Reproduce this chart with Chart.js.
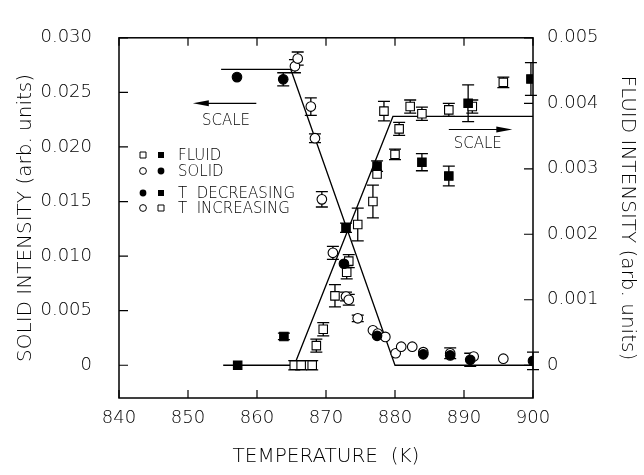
<!DOCTYPE html>
<html>
<head>
<meta charset="utf-8">
<script src="https://cdn.jsdelivr.net/npm/chart.js@4.4.1/dist/chart.umd.min.js"></script>
<style>
  html, body { margin: 0; padding: 0; background: #fff; }
  #wrap { width: 644px; height: 475px; }
</style>
</head>
<body>
<div id="wrap"><canvas id="chart-area" width="644" height="475"></canvas></div>
<script>
// temperature (K) and intensities
var solidDecT = [857.1, 863.8, 872.6, 877.4, 884.1, 888.0, 890.9, 900.0];
var solidDecV = [0.0264, 0.0262, 0.0093, 0.0027, 0.0010, 0.0009, 0.0005, 0.0004];
var solidDecE = [0, 0.0006, 0, 0, 0, 0, 0.0006, 0.0008];

var solidIncT = [865.5, 865.9, 867.8, 868.4, 869.4, 871.0, 872.9, 873.3, 874.6, 876.8, 877.5, 878.6, 880.1, 880.9, 882.5, 884.1, 888.0, 891.4, 895.7];
var solidIncV = [0.0274, 0.0281, 0.0237, 0.0208, 0.0152, 0.0103, 0.0063, 0.0060, 0.0043, 0.0032, 0.0029, 0.0026, 0.0011, 0.0017, 0.0017, 0.0012, 0.0011, 0.0008, 0.0006];
var solidIncE = [0.0006, 0.0006, 0.0008, 0.0004, 0.0007, 0.0006, 0.0004, 0.0005, 0.0003, 0, 0, 0, 0, 0, 0, 0, 0.0005, 0, 0];

var fluidDecT = [857.2, 863.9, 872.9, 877.4, 883.9, 887.8, 890.6, 899.7];
var fluidDecV = [0, 0.00044, 0.0021, 0.00304, 0.0031, 0.00289, 0.0040, 0.00437];
var fluidDecE = [0, 0.00005, 0.00007, 0.00008, 0.00013, 0.00015, 0.00028, 0.00025];

var fluidIncT = [865.4, 866.4, 868.0, 868.6, 869.6, 871.3, 873.0, 873.3, 874.6, 876.8, 877.4, 878.4, 880.0, 880.6, 882.2, 883.9, 887.8, 891.2, 895.7];
var fluidIncV = [0, 0, 0, 0.0003, 0.00055, 0.00106, 0.00142, 0.00159, 0.00215, 0.0025, 0.00292, 0.00388, 0.00322, 0.00361, 0.00395, 0.00384, 0.0039, 0.00395, 0.00432];
var fluidIncE = [0.00007, 0.00007, 0.00007, 0.0001, 0.0001, 0.00017, 0.0001, 0.0001, 0.00025, 0.00025, 0, 0.00015, 0.00008, 0.0001, 0.0001, 0.0001, 0.0001, 0.0001, 0.00008];

var solidLineT = [854.8, 864.9, 880.0, 900.0];
var solidLineV = [0.0271, 0.0271, 0, 0];
var fluidLineT = [855.1, 865.4, 879.7, 900.0];
var fluidLineV = [0, 0, 0.0038, 0.0038];

var xTicks = [840, 850, 860, 870, 880, 890, 900];
var legendRows = ['FLUID', 'SOLID', 'T  DECREASING', 'T  INCREASING'];

function pts(xs, ys) {
  return xs.map(function (x, i) { return { x: x, y: ys[i] }; });
}

var FONT = "'DejaVu Sans', sans-serif";

function markerSet(label, xs, ys, errs, axis, style, filled) {
  return {
    label: label,
    data: pts(xs, ys),
    errs: errs,
    yAxisID: axis,
    pointStyle: style,
    pointRadius: style === 'rect' ? 6 : 4.8,
    pointHoverRadius: style === 'rect' ? 6 : 4.8,
    pointBackgroundColor: filled ? '#000' : '#fff',
    pointBorderColor: '#000',
    pointBorderWidth: 1.1,
    showLine: false,
    order: 1
  };
}

function lineSet(label, xs, ys, axis) {
  return {
    label: label,
    data: pts(xs, ys),
    yAxisID: axis,
    showLine: true,
    borderColor: '#000',
    borderWidth: 1.3,
    pointRadius: 0,
    pointHoverRadius: 0,
    order: 10
  };
}

var errorBars = {
  id: 'errorBars',
  beforeDatasetsDraw: function (chart) {
    var ctx = chart.ctx;
    var xs = chart.scales.x;
    ctx.save();
    ctx.strokeStyle = '#000';
    ctx.lineWidth = 1.3;
    chart.data.datasets.forEach(function (ds) {
      if (!ds.errs) return;
      var ys = chart.scales[ds.yAxisID];
      ds.data.forEach(function (p, i) {
        var e = ds.errs[i];
        if (!e) return;
        var px = xs.getPixelForValue(p.x);
        var y1 = ys.getPixelForValue(p.y + e);
        var y2 = ys.getPixelForValue(p.y - e);
        ctx.beginPath();
        ctx.moveTo(px, y1); ctx.lineTo(px, y2);
        ctx.moveTo(px - 6, y1); ctx.lineTo(px + 6, y1);
        ctx.moveTo(px - 6, y2); ctx.lineTo(px + 6, y2);
        ctx.stroke();
      });
    });
    ctx.restore();
  }
};

function arrow(ctx, x1, x2, y) {
  var dir = x2 > x1 ? 1 : -1;
  ctx.beginPath();
  ctx.moveTo(x1, y); ctx.lineTo(x2 - dir * 12, y);
  ctx.stroke();
  ctx.beginPath();
  ctx.moveTo(x2, y);
  ctx.lineTo(x2 - dir * 16, y - 3);
  ctx.lineTo(x2 - dir * 16, y + 3);
  ctx.closePath();
  ctx.fill();
}

var frame = {
  id: 'frame',
  afterDraw: function (chart) {
    var ctx = chart.ctx;
    var a = chart.chartArea;
    var x = chart.scales.x, y = chart.scales.y, y2 = chart.scales.y2;
    ctx.save();
    ctx.strokeStyle = '#000';
    ctx.fillStyle = '#000';
    ctx.lineWidth = 1.5;
    ctx.strokeRect(a.left, a.top, a.right - a.left, a.bottom - a.top);
    ctx.lineWidth = 1.2;
    ctx.beginPath();
    x.ticks.forEach(function (t) {
      var px = x.getPixelForValue(t.value);
      ctx.moveTo(px, a.bottom); ctx.lineTo(px, a.bottom - 8);
      ctx.moveTo(px, a.top); ctx.lineTo(px, a.top + 8);
    });
    y.ticks.forEach(function (t) {
      var py = y.getPixelForValue(t.value);
      ctx.moveTo(a.left, py); ctx.lineTo(a.left + 9, py);
    });
    y2.ticks.forEach(function (t) {
      var py = y2.getPixelForValue(t.value);
      ctx.moveTo(a.right, py); ctx.lineTo(a.right - 9, py);
    });
    ctx.stroke();

    // scale arrows
    ctx.lineWidth = 1.2;
    arrow(ctx, x.getPixelForValue(859.9), x.getPixelForValue(850.7), y.getPixelForValue(0.0240));
    arrow(ctx, x.getPixelForValue(887.8), x.getPixelForValue(897.0), y2.getPixelForValue(0.0036));
    ctx.font = '200 15px ' + FONT;
    ctx.textAlign = 'center';
    ctx.textBaseline = 'middle';
    ctx.fillText('SCALE', x.getPixelForValue(855.5), y.getPixelForValue(0.0224));
    ctx.fillText('SCALE', x.getPixelForValue(892.0), y2.getPixelForValue(0.00338));

    // legend
    var lx = a.left + 24, rows = [155, 171, 193, 208];
    var marks = [['rect', false, 'rect', true], ['circle', false, 'circle', true],
                 ['circle', true, 'rect', true], ['circle', false, 'rect', false]];
    ctx.textAlign = 'left';
    ctx.lineWidth = 1;
    rows.forEach(function (ry, i) {
      var m = marks[i];
      [0, 1].forEach(function (k) {
        var mx = lx + k * 18;
        ctx.beginPath();
        if (m[k * 2] === 'rect') ctx.rect(mx - 3, ry - 3, 6, 6);
        else ctx.arc(mx, ry, 3.4, 0, Math.PI * 2);
        if (m[k * 2 + 1]) ctx.fill(); else ctx.stroke();
      });
      ctx.fillText(legendRows[i], lx + 35, ry + 1);
    });
    ctx.restore();
  }
};

var tickFont = { family: FONT, size: 18, weight: '200' };
var titleFont = { family: FONT, size: 20, weight: '200' };

var config = {
  type: 'scatter',
  data: {
    datasets: [
      markerSet('Solid T decreasing', solidDecT, solidDecV, solidDecE, 'y', 'circle', true),
      markerSet('Solid T increasing', solidIncT, solidIncV, solidIncE, 'y', 'circle', false),
      markerSet('Fluid T decreasing', fluidDecT, fluidDecV, fluidDecE, 'y2', 'rect', true),
      markerSet('Fluid T increasing', fluidIncT, fluidIncV, fluidIncE, 'y2', 'rect', false),
      lineSet('Solid fit', solidLineT, solidLineV, 'y'),
      lineSet('Fluid fit', fluidLineT, fluidLineV, 'y2')
    ]
  },
  options: {
    responsive: false,
    animation: false,
    layout: { padding: { top: 24 } },
    plugins: { legend: { display: false }, tooltip: { enabled: false } },
    scales: {
      x: {
        type: 'linear', min: 840, max: 900,
        afterFit: function (s) { s.height = 77; },
        afterBuildTicks: function (s) { s.ticks = xTicks.map(function (v) { return { value: v }; }); },
        grid: { display: false, drawTicks: false },
        border: { display: false },
        ticks: { color: '#000', font: tickFont, padding: 10, maxRotation: 0 },
        title: { display: true, text: 'TEMPERATURE  (K)', color: '#000', font: titleFont, padding: { bottom: 6 } }
      },
      y: {
        type: 'linear', position: 'left', min: -0.003, max: 0.030,
        afterFit: function (s) { s.width = 119; },
        afterBuildTicks: function (s) {
          s.ticks = s.ticks.filter(function (t) { return Math.abs(Math.round(t.value / 0.005) * 0.005 - t.value) < 1e-9; });
        },
        grid: { display: false, drawTicks: false },
        border: { display: false },
        ticks: {
          stepSize: 0.005, color: '#000', font: tickFont, padding: 27,
          callback: function (v) { return Math.abs(v) < 1e-9 ? '0' : v.toFixed(3); }
        },
        title: { display: true, text: 'SOLID INTENSITY (arb. units)', color: '#000', font: titleFont, padding: { top: 14 } }
      },
      y2: {
        type: 'linear', position: 'right', min: -0.0005, max: 0.005,
        afterFit: function (s) { s.width = 111; },
        afterBuildTicks: function (s) {
          s.ticks = s.ticks.filter(function (t) { return Math.abs(Math.round(t.value / 0.001) * 0.001 - t.value) < 1e-9; });
        },
        grid: { display: false, drawTicks: false },
        border: { display: false },
        ticks: {
          stepSize: 0.001, color: '#000', font: tickFont, padding: 14,
          callback: function (v) { return Math.abs(v) < 1e-9 ? '0' : v.toFixed(3); }
        },
        title: { display: true, text: 'FLUID INTENSITY (arb. units)', color: '#000', font: titleFont, padding: { top: 5 } }
      }
    }
  },
  plugins: [errorBars, frame]
};

var ctx = document.getElementById('chart-area').getContext('2d');
window.myChart = new Chart(ctx, config);
</script>
</body>
</html>
